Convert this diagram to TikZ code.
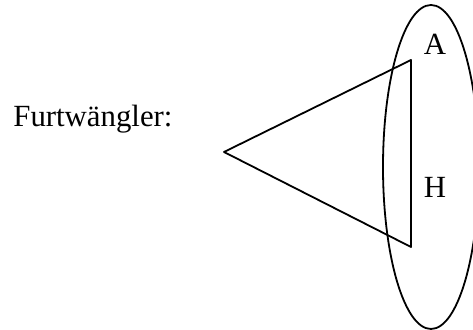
\documentclass[tikz,border=0pt]{standalone}
\usepackage{fontspec}
\setmainfont{Liberation Serif}
\usetikzlibrary{calc}
\definecolor{tinta}{HTML}{000000}

\begin{document}
\begin{tikzpicture}[x=0.5pt, y=-0.5pt, line cap=round, line join=round,
    linea/.style={tinta, line width=0.9pt},
    rotulo/.style={tinta, inner sep=0pt, anchor=base, font=\fontsize{15.4}{18}\selectfont}]
  \useasboundingbox (0,0) rectangle (473,330);
  \clip (0,0) rectangle (473,330);

  \node[rotulo, anchor=base west] (nombre) at (13,127) {Furtwängler:};

  \coordinate (V) at (224,152);   % vértice
  \coordinate (S) at (411,60);    % extremo superior
  \coordinate (I) at (411,247);   % extremo inferior

  % Triángulo
  \draw[linea] (V) -- (S) -- (I) -- cycle;

  % Elipse
  \draw[linea] (431,167) ellipse[x radius=48, y radius=162];

  \node[rotulo] (A) at (435,55) {A};
  \node[rotulo] (H) at (435,198) {H};
\end{tikzpicture}
\end{document}
